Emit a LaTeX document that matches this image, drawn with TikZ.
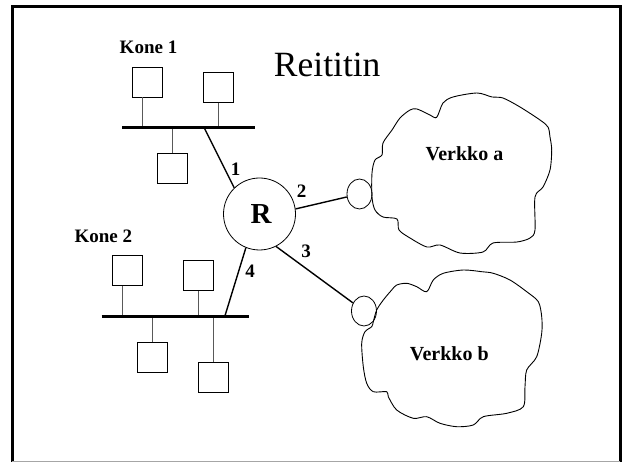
\documentclass[tikz,border=0pt]{standalone}
\usepackage{fontspec}
\setmainfont{Liberation Serif}
\usepackage{tikz}
\usetikzlibrary{positioning, shapes.geometric}

\begin{document}
\begin{tikzpicture}[x=1pt, y=-1pt]
\tikzstyle{host}=[rectangle,draw,line width=0.8pt,minimum size=30pt,inner sep=0pt]
\tikzstyle{stub}=[draw=black!65,line width=1pt]
\tikzstyle{bus}=[line width=3pt]
\tikzstyle{link}=[line width=1.4pt]
\tikzstyle{port}=[ellipse,draw,line width=0.8pt,minimum width=25pt,minimum height=30pt,inner sep=0pt]
\tikzstyle{lbl}=[font=\fontsize{19}{22}\selectfont\bfseries,inner sep=0pt]
\tikzstyle{cloud}=[line width=0.9pt]
\useasboundingbox (0,0) rectangle (624,462);
% frame
\draw[line width=3pt] (12,462) -- (12,7) -- (620,7) -- (620,462);
\draw[black!35,line width=1pt] (12,461.5) -- (620,461.5);
% title
\node[font=\fontsize{35.5}{40}\selectfont,inner sep=0pt,anchor=base] (title) at (327.2,77) {Reititin};

% Kone 1
\node[lbl,anchor=base] (kone1) at (148.5,54) {Kone 1};
\coordinate (b1l) at (122.3,128);
\coordinate (b1r) at (255,128);
\coordinate (tap1) at (204.3,128);
\node[host] (h11) at (147.7,82) {};
\node[host] (h12) at (218.8,87.2) {};
\node[host] (h13) at (172.8,168.7) {};
\draw[stub] ([xshift=-5pt]h11.south) -- ([xshift=-5pt]h11.south |- b1l);
\draw[stub] (h12.south) -- (h12.south |- b1l);
\draw[stub] (h13.north) -- (h13.north |- b1l);
\draw[bus] (b1l) -- (b1r);

% Kone 2
\node[lbl,anchor=base] (kone2) at (103.3,242.7) {Kone 2};
\coordinate (b2l) at (101.7,316.7);
\coordinate (b2r) at (249.3,316.7);
\coordinate (tap2) at (224.7,316.7);
\node[host] (h21) at (127.2,270.7) {};
\node[host] (h22) at (198.7,275.7) {};
\node[host] (h23) at (152.8,357.5) {};
\node[host] (h24) at (213.8,377.5) {};
\draw[stub] ([xshift=-5pt]h21.south) -- ([xshift=-5pt]h21.south |- b2l);
\draw[stub] (h22.south) -- (h22.south |- b2l);
\draw[stub] (h23.north) -- (h23.north |- b2l);
\draw[stub] (h24.north) -- (h24.north |- b2l);
\draw[bus] (b2l) -- (b2r);

% router
\node[circle,draw,line width=0.8pt,minimum size=72pt,inner sep=0pt] (R) at (259.5,214) {};
\node[font=\fontsize{29}{32}\selectfont\bfseries,inner sep=0pt,anchor=base] (Rtxt) at (261,224) {R};
\node[port] (pa) at (359.5,194) {};
\node[port] (pb) at (364,311) {};
\draw[link] (R.134) -- (tap1);
\draw[link] (R.8) -- (pa);
\draw[link] (R.-63) -- (pb);
\draw[link] (R.248) -- (tap2);
\node[lbl] (n1) at (235.5,169.5) {1};
\node[lbl] (n2) at (301.7,191) {2};
\node[lbl] (n3) at (306,251.7) {3};
\node[lbl] (n4) at (250,271.7) {4};

% clouds
\draw[cloud] plot[smooth cycle, tension=0.5] coordinates {
(436.7,117.3) (443,103) (453,97) (477,93) (492,97) (503,98) (520,107)
(540,120) (548,127) (550,137) (551.7,150) (550,170) (543,187) (535,197)
(535,230) (530,238) (517,242) (493,243) (483,252) (460,253) (440,245)
(427,247) (410,238) (399,230) (397,219) (383,217) (375,210) (372,197)
(372,173) (375,160) (382,155) (383,143) (392,130) (400,118) (410,110)
(417,109) (430,115)};
\draw[cloud] plot[smooth cycle, tension=0.5] coordinates {
(426.7,291.7) (433.3,280) (443.3,273.3) (463.3,270) (481.7,271.7) (493.3,273.3)
(510,280) (526.7,291.7) (538.3,301.7) (541.7,316.7) (541.7,333.3) (536.7,356.7)
(526.7,370) (525,386.7) (523.3,406.7) (506.7,413.3) (483.3,416.7) (473.3,425)
(456.7,426.7) (440,423.3) (426.7,416.7) (413.3,418.3) (396.7,410) (388.3,396.7)
(386.7,391.7) (373.3,391.7) (366.7,383.3) (363.3,366.7) (361.7,343.3) (365,331.7)
(371.7,326.7) (373.3,321.7) (376.7,310) (383.3,300) (391.7,290) (396.7,285)
(406.7,283.3) (416.7,286.7)};
\node[font=\fontsize{20}{24}\selectfont\bfseries,inner sep=0pt,anchor=base] (neta) at (464.5,161) {Verkko a};
\node[font=\fontsize{20}{24}\selectfont\bfseries,inner sep=0pt,anchor=base] (netb) at (449.3,360) {Verkko b};
\end{tikzpicture}
\end{document}
